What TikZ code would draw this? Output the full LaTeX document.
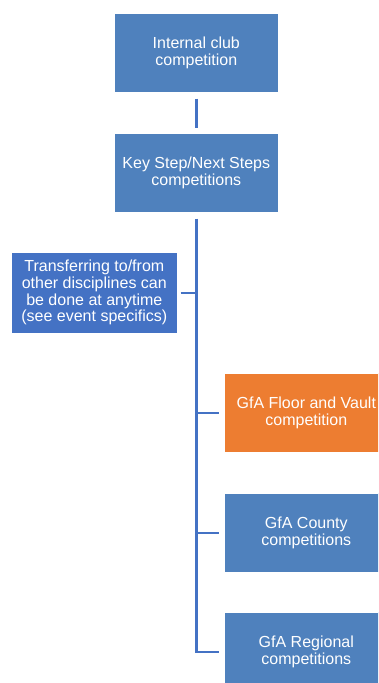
\documentclass[tikz,border=0pt]{standalone}
\usepackage{fontspec}
\setmainfont{Liberation Sans}
\definecolor{boxblue}{HTML}{4F81BD}
\definecolor{leftblue}{HTML}{4472C4}
\definecolor{boxorange}{HTML}{ED7D31}
\definecolor{linkblue}{HTML}{4472C4}
\begin{document}
\begin{tikzpicture}[x=1pt,y=1pt,
  stagebox/.style={fill=boxblue, draw=white, line width=0.6pt, text=white, align=center,
    minimum width=164pt, minimum height=79pt, inner sep=0pt, anchor=north west,
    font=\fontsize{16}{16.5}\selectfont},
  link/.style={draw=linkblue, line width=2.6pt}]
\clip (0,0) rectangle (378,-683);
\fill[white] (0,0) rectangle (378,-683);
\node[stagebox] (club) at (114,-13) {Internal club\\competition};
\node[stagebox] (key) at (114,-133) {Key Step/Next Steps\\competitions};
\node[stagebox, fill=leftblue, minimum width=166pt, minimum height=81pt, font=\fontsize{16}{16.7}\selectfont] (transfer) at (11,-252) {Transferring to/from\\other disciplines can\\be done at anytime\\(see event specifics)};
\node[stagebox, fill=boxorange] (floor) at (224,-373) {GfA Floor and Vault\\competition};
\node[stagebox] (county) at (224,-493) {GfA County\\competitions};
\node[stagebox] (regional) at (224,-612) {GfA Regional\\competitions};
\coordinate (trunk) at ([yshift=-6pt]key.south);
\draw[link] ([yshift=-6pt]club.south) -- ([yshift=5pt]key.north);
\draw[link] (trunk) |- ([xshift=-5pt]regional.west);
\draw[link] ([xshift=3pt]transfer.east) -- (trunk |- transfer.east);
\draw[link] (trunk |- floor.west) -- ([xshift=-5pt]floor.west);
\draw[link] (trunk |- county.west) -- ([xshift=-5pt]county.west);
\end{tikzpicture}
\end{document}
